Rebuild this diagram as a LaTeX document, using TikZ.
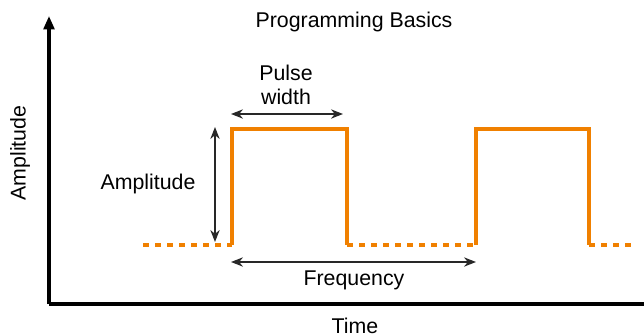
\documentclass[tikz,border=0pt]{standalone}
\usepackage{fontspec}
\setmainfont{Liberation Sans}
\usetikzlibrary{arrows.meta}
\definecolor{pulse}{RGB}{240,128,0}
\definecolor{dimline}{RGB}{40,40,40}
\begin{document}
\begin{tikzpicture}[x=0.75pt,y=-0.75pt,
  axisline/.style={line width=2.4pt,black},
  wave/.style={line width=2.3pt,pulse},
  idle/.style={line width=2.3pt,pulse,dash pattern=on 4.5pt off 4.5pt},
  dimarrow/.style={line width=1pt,dimline,{Stealth[length=9pt,width=7pt]}-{Stealth[length=9pt,width=7pt]}},
  lbl/.style={font=\fontsize{16}{17.5}\selectfont,inner sep=0pt,align=center}]
\useasboundingbox (0,0) rectangle (644,336);
% axes
\coordinate (origin) at (49,304);
\coordinate (ytop) at (49,16);
\coordinate (xend) at (644,304);
\draw[axisline,-{Triangle[length=10pt,width=8pt]}] (origin) -- (ytop);
\draw[axisline] (origin) -- (xend);
\node[lbl,rotate=90] (ylabel) at (20,153) {Amplitude};
\node[lbl] (xlabel) at (355,326) {Time};
\node[lbl] (title) at (354,22) {Programming Basics};
% pulse train corners
\coordinate (l0) at (143,245);
\coordinate (r1) at (232,245);
\coordinate (t1) at (232,129);
\coordinate (t2) at (347,129);
\coordinate (f1) at (347,245);
\coordinate (r2) at (476,245);
\coordinate (t3) at (476,129);
\coordinate (t4) at (589,129);
\coordinate (f2) at (589,245);
\coordinate (e0) at (636,245);
\draw[idle] (l0) -- (r1);
\draw[wave,line join=miter] (r1) -- (t1) -- (t2) -- (f1);
\draw[idle] (f1) -- (r2);
\draw[wave,line join=miter] (r2) -- (t3) -- (t4) -- (f2);
\draw[idle] (f2) -- (e0);
% dimensions
\coordinate (pwa) at (231,114);
\coordinate (pwb) at (343,114);
\draw[dimarrow] (pwa) -- (pwb);
\node[lbl] (pwlabel) at (286,85) {Pulse\\width};
\coordinate (ama) at (215,127);
\coordinate (amb) at (215,242);
\draw[dimarrow] (ama) -- (amb);
\node[lbl] (amlabel) at (148,184) {Amplitude};
\coordinate (fra) at (231,262);
\coordinate (frb) at (476,262);
\draw[dimarrow] (fra) -- (frb);
\node[lbl] (frlabel) at (354,280) {Frequency};
\end{tikzpicture}
\end{document}
